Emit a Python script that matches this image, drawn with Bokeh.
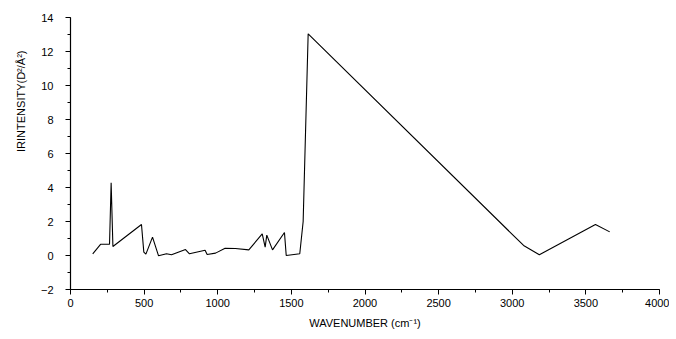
from bokeh.plotting import figure
from bokeh.models import Range1d, FixedTicker, Title
from bokeh.embed import file_html
from bokeh.resources import INLINE

wavenumber = [151, 204, 265, 276, 288, 482, 498, 512, 557, 598, 652, 686, 781, 808,
              914, 928, 985, 1050, 1120, 1211, 1302, 1322, 1333, 1372, 1453, 1465,
              1557, 1580, 1614, 3077, 3184, 3565, 3662]
intensity = [0.1, 0.66, 0.66, 4.28, 0.53, 1.82, 0.2, 0.08, 1.08, -0.02, 0.1, 0.04, 0.35, 0.1,
             0.31, 0.06, 0.14, 0.43, 0.41, 0.33, 1.27, 0.49, 1.2, 0.33, 1.35, 0.0,
             0.1, 2.0, 13.04, 0.59, 0.04, 1.82, 1.39]
x_ticks = [0, 500, 1000, 1500, 2000, 2500, 3000, 3500, 4000]
y_ticks = [-2, 0, 2, 4, 6, 8, 10, 12, 14]

FONT = "Liberation Sans"

p = figure(width=669, height=331, output_backend="svg", toolbar_location=None,
           x_range=Range1d(0, 4000), y_range=Range1d(-2, 14),
           min_border_left=70, min_border_right=10, min_border_top=17, min_border_bottom=42)
p.outline_line_color = None
p.grid.visible = False
p.background_fill_color = "white"
p.border_fill_color = "white"

p.line(wavenumber, intensity, line_color="black", line_width=1.1)

p.xaxis.ticker = FixedTicker(ticks=x_ticks, minor_ticks=list(range(0, 4001, 250)))
p.yaxis.ticker = FixedTicker(ticks=y_ticks, minor_ticks=list(range(-2, 15, 1)))
p.xaxis.axis_label = "WAVENUMBER (cm\u207b\u00b9)"

for ax in (p.xaxis, p.yaxis):
    ax.axis_line_color = "black"
    ax.axis_line_width = 1.2
    ax.major_tick_line_color = "black"
    ax.minor_tick_line_color = "black"
    ax.major_tick_in = 0
    ax.minor_tick_in = 0
    ax.major_tick_out = 5
    ax.minor_tick_out = 3
    ax.major_label_text_font = FONT
    ax.major_label_text_font_size = "11px"
    ax.major_label_text_color = "black"
    ax.axis_label_text_font = FONT
    ax.axis_label_text_font_size = "11px"
    ax.axis_label_text_font_style = "normal"
    ax.axis_label_text_color = "black"

p.xaxis.major_label_standoff = 4
p.xaxis.axis_label_standoff = 7
p.yaxis.major_label_standoff = 12

# y-axis title, placed above centre as in the reference
ytitle = Title(text="IRINTENSITY(D\u00b2/\u00c5\u00b2)", align="right", offset=33,
               text_font=FONT, text_font_size="11px", text_font_style="normal",
               text_color="black", standoff=22)
p.add_layout(ytitle, "left")

open("out.html", "w").write(file_html(p, INLINE))
